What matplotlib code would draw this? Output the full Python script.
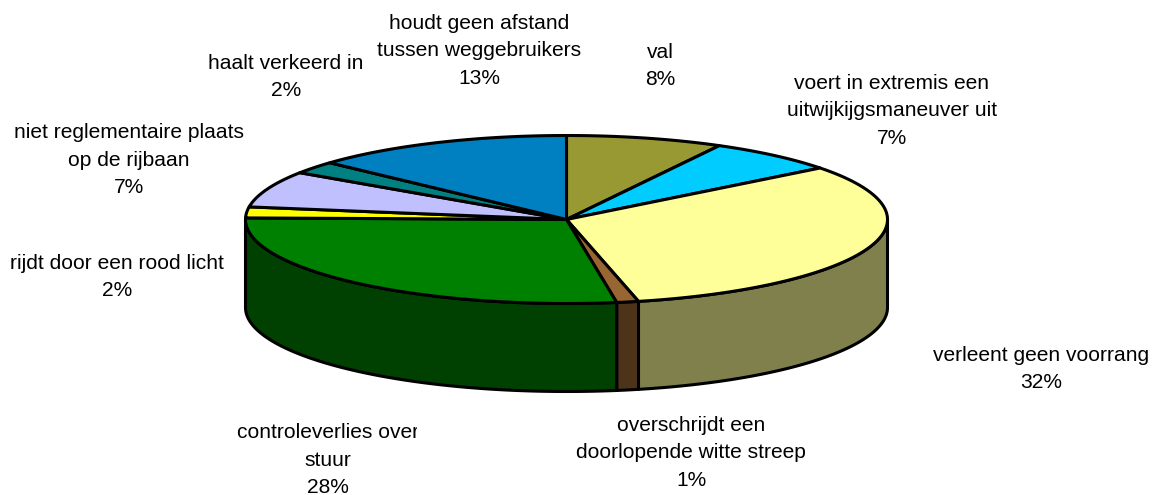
import numpy as np
import matplotlib
matplotlib.use("Agg")
import matplotlib.pyplot as plt
from matplotlib.transforms import Bbox

plt.rcParams['font.family'] = ['Liberation Sans', 'DejaVu Sans']

# Datos
labels = ["val",
          "voert in extremis een\nuitwijkijgsmaneuver uit",
          "verleent geen voorrang",
          "overschrijdt een\ndoorlopende witte streep",
          "controleverlies over\nstuur",
          "rijdt door een rood licht",
          "niet reglementaire plaats\nop de rijbaan",
          "haalt verkeerd in",
          "houdt geen afstand\ntussen weggebruikers"]
shares = [7.9, 6.6, 31.9, 1.1, 27.8, 2.1, 7.0, 2.4, 13.2]
colors = ["#999933", "#00CCFF", "#FFFF99", "#996633", "#008000",
          "#FFFF00", "#C0C0FF", "#008080", "#0080C0"]

# label center in pixels, and right clip edge (None = no clip)
label_x = [660, 892, 1041, 691, 328, 117, 129, 286, 479]
label_y = [66, 111, 369, 453, 460, 277, 160, 77, 51]
label_clip = [None, None, None, None, 417, None, 244, None, None]

W, H = 1155, 495
cx, cy = 566.5, 219.5
rx, ry = 321, 84
depth = 88


def shade(c):
    rgb = np.array(matplotlib.colors.to_rgb(c))
    return rgb * 0.5


def rim(a0, a1):
    t = np.radians(np.linspace(a0, a1, max(int(abs(a1 - a0)) * 2, 2)))
    return cx + rx * np.sin(t), cy - ry * np.cos(t)


fig = plt.figure(figsize=(W / 100, H / 100), dpi=100)
ax = fig.add_axes([0, 0, 1, 1])
ax.set_xlim(0, W)
ax.set_ylim(H, 0)
ax.axis("off")

edges = np.cumsum([0] + shares) * 3.6

# paredes
for i in range(len(shares)):
    a0, a1 = max(edges[i], 90), min(edges[i + 1], 270)
    if a1 <= a0:
        continue
    x, y = rim(a0, a1)
    ax.fill(np.r_[x, x[::-1]], np.r_[y, y[::-1] + depth],
            facecolor=shade(colors[i]), edgecolor="black", lw=2.2, joinstyle="round", zorder=2)

# tapa
for i in range(len(shares)):
    x, y = rim(edges[i], edges[i + 1])
    ax.fill(np.r_[cx, x], np.r_[cy, y],
            facecolor=colors[i], edgecolor="black", lw=2.2, joinstyle="round", zorder=3)

# etiquetas
for i in range(len(labels)):
    t = ax.text(label_x[i], label_y[i], labels[i] + "\n%.0f%%" % shares[i],
                ha="center", va="center", multialignment="center",
                fontsize=15.1, linespacing=1.55, color="black", zorder=5)
    if label_clip[i] is not None:
        t.set_clip_on(True)
        t.set_clip_box(Bbox([[0, 0], [label_clip[i], H]]))

fig.savefig("out.png", dpi=100, facecolor="white")
